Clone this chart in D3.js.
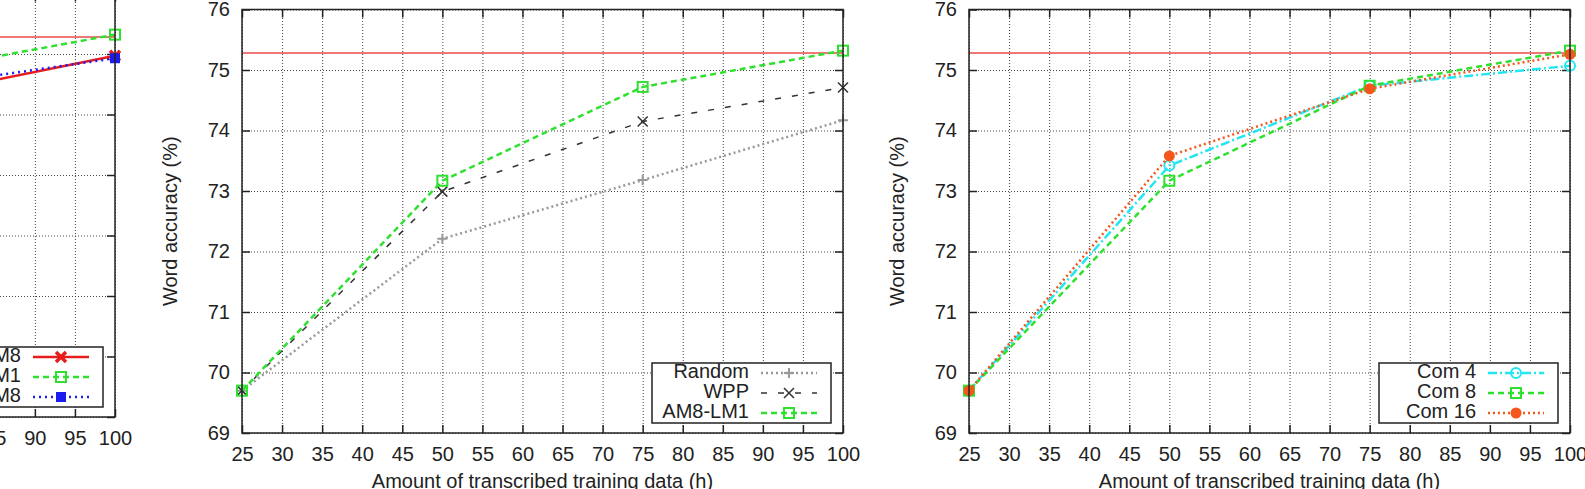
<!DOCTYPE html>
<html>
<head>
<meta charset="utf-8">
<script src="https://cdn.jsdelivr.net/npm/d3@7"></script>
<style>
	body{margin:0;background:#fff}
	svg text{font-family:"Liberation Sans",Arial,sans-serif;fill:#222}
	.grid line{stroke:#444;stroke-width:1;stroke-dasharray:1,2}
	.grid path{display:none}
	.ax path{display:none}
	.ax line{stroke:#222;stroke-width:1.5}
	.ax text{font-size:20px}
</style>
</head>
<body>
<div id="my_dataviz"></div>
<script>
// data
var hours=[25,50,75,100]
var xTicks=[25,30,35,40,45,50,55,60,65,70,75,80,85,90,95,100]
var yTicks=[69,70,71,72,73,74,75,76]
var baseline=75.28

// left panel (cut off by the page edge)
var leftLabels=["AM1-LM8","AM8-LM1","AM8-LM8"]
var leftRed=[69.7,72.9,74.30,74.97]
var leftGreen=[69.7,73.17,74.71,75.32]
var leftBlue=[69.7,73.0,74.45,74.93]

// middle panel
var midLabels=["Random","WPP","AM8-LM1"]
var random=[69.7,72.21,73.18,74.17]
var wpp=[69.7,72.99,74.15,74.71]
var am8lm1=[69.7,73.17,74.72,75.32]

// right panel
var rightLabels=["Com 4","Com 8","Com 16"]
var com4=[69.7,73.42,74.74,75.07]
var com8=[69.7,73.17,74.74,75.32]
var com16=[69.7,73.58,74.69,75.26]

var W=1585,H=489
var pw=601,ph=423.5

var svg=d3.select("#my_dataviz").append("svg")
	.attr("width",W)
	.attr("height",H)

// line looks
var styles={
	red:{color:"#e81c1c",width:2.5,dash:null,marker:"xbold"},
	green:{color:"#2fe02f",width:2.5,dash:"6,4",marker:"square"},
	blue:{color:"#1c1cf0",width:2.5,dash:"2,4",marker:"fsquare"},
	gray:{color:"#999",width:2.5,dash:"2,3",marker:"plus"},
	black:{color:"#333",width:1.5,dash:"6,11",marker:"x"},
	cyan:{color:"#22e6f2",width:2.5,dash:"9,3,2,3",marker:"circle"},
	orange:{color:"#f4561c",width:2.5,dash:"2,3",marker:"fcircle"}
}

function marker(g,type,color,cx,cy){
	if(type=="square") g.append("rect").attr("x",cx-5).attr("y",cy-5).attr("width",10).attr("height",10)
		.attr("fill","none").attr("stroke",color).attr("stroke-width",2)
	else if(type=="fsquare") g.append("rect").attr("x",cx-5).attr("y",cy-5).attr("width",10).attr("height",10)
		.attr("fill",color)
	else if(type=="circle") g.append("circle").attr("cx",cx).attr("cy",cy).attr("r",5)
		.attr("fill","none").attr("stroke",color).attr("stroke-width",2)
	else if(type=="fcircle") g.append("circle").attr("cx",cx).attr("cy",cy).attr("r",5.5)
		.attr("fill",color)
	else if(type=="plus") g.append("path").attr("d","M"+(cx-5)+","+cy+"h10M"+cx+","+(cy-5)+"v10")
		.attr("stroke",color).attr("stroke-width",2)
	else if(type=="x") g.append("path").attr("d","M"+(cx-5)+","+(cy-5)+"l10,10M"+(cx-5)+","+(cy+5)+"l10,-10")
		.attr("stroke",color).attr("stroke-width",1.5)
	else if(type=="xbold") g.append("path").attr("d","M"+(cx-5)+","+(cy-5)+"l10,10M"+(cx-5)+","+(cy+5)+"l10,-10")
		.attr("stroke",color).attr("stroke-width",3.5)
}

function drawPanel(left,top,series,labels){
	var g=svg.append("g").attr("transform","translate("+left+","+top+")")

	var xScale=d3.scaleLinear().domain([25,100]).range([0,pw])
	var yScale=d3.scaleLinear().domain([69,76]).range([ph,0])

	// dotted grid
	g.append("g").attr("class","grid")
		.attr("transform","translate(0,"+ph+")")
		.call(d3.axisBottom(xScale).tickValues(xTicks).tickSize(-ph).tickFormat(""))
	g.append("g").attr("class","grid")
		.call(d3.axisLeft(yScale).tickValues(yTicks).tickSize(-pw).tickFormat(""))

	// inward ticks on all four sides
	g.append("g").attr("class","ax")
		.attr("transform","translate(0,"+ph+")")
		.call(d3.axisBottom(xScale).tickValues(xTicks).tickFormat(d3.format("d"))
			.tickSizeInner(-8).tickSizeOuter(0).tickPadding(13.5))
	g.append("g").attr("class","ax")
		.call(d3.axisTop(xScale).tickValues(xTicks).tickSizeInner(-8).tickSizeOuter(0).tickFormat(""))
	g.append("g").attr("class","ax")
		.call(d3.axisLeft(yScale).tickValues(yTicks).tickFormat(d3.format("d"))
			.tickSizeInner(-8).tickSizeOuter(0).tickPadding(12))
	g.append("g").attr("class","ax")
		.attr("transform","translate("+pw+",0)")
		.call(d3.axisRight(yScale).tickValues(yTicks).tickSizeInner(-8).tickSizeOuter(0).tickFormat(""))

	// red reference line
	g.append("line")
		.attr("x1",0).attr("x2",pw)
		.attr("y1",yScale(baseline)).attr("y2",yScale(baseline))
		.attr("stroke","#e84a4a").attr("stroke-width",1.5)

	var line=d3.line()
		.x(function(d,i){return xScale(hours[i])})
		.y(function(d){return yScale(d)})

	series.forEach(function(s){
		var st=styles[s.style]
		g.append("path")
			.datum(s.values)
			.attr("d",line)
			.attr("fill","none")
			.attr("stroke",st.color)
			.attr("stroke-width",st.width)
			.attr("stroke-dasharray",st.dash)
		s.values.forEach(function(v,i){
			marker(g,st.marker,st.color,xScale(hours[i]),yScale(v))
		})
	})

	// frame
	g.append("rect").attr("width",pw).attr("height",ph)
		.attr("fill","none").attr("stroke","#222").attr("stroke-width",1.5)

	// axis titles
	g.append("text")
		.attr("transform","translate(-70,"+(ph/2)+") rotate(-90)")
		.attr("text-anchor","middle").attr("dominant-baseline","middle")
		.style("font-size","20px")
		.text("Word accuracy (%)")
	g.append("text")
		.attr("x",pw/2).attr("y",ph+55)
		.attr("text-anchor","middle")
		.style("font-size","20px")
		.text("Amount of transcribed training data (h)")

	// legend box, bottom right
	var lx=pw-12-179,ly=ph-70
	var lg=g.append("g").attr("transform","translate("+lx+","+ly+")")
	lg.append("rect").attr("width",179).attr("height",60)
		.attr("fill","#fff").attr("stroke","#222").attr("stroke-width",1.5)
	series.forEach(function(s,i){
		var st=styles[s.style]
		var yy=10+i*20
		lg.append("text").attr("x",97).attr("y",yy)
			.attr("text-anchor","end").attr("dominant-baseline","middle")
			.style("font-size","20px")
			.text(labels[i])
		lg.append("line").attr("x1",109).attr("x2",165).attr("y1",yy).attr("y2",yy)
			.attr("stroke",st.color).attr("stroke-width",st.width)
			.attr("stroke-dasharray",st.dash)
		marker(lg,st.marker,st.color,137,yy)
	})
}

drawPanel(115-pw,417-ph,[
	{values:leftRed,style:"red"},
	{values:leftGreen,style:"green"},
	{values:leftBlue,style:"blue"}
],leftLabels)

drawPanel(242,9.5,[
	{values:random,style:"gray"},
	{values:wpp,style:"black"},
	{values:am8lm1,style:"green"}
],midLabels)

drawPanel(969,9.5,[
	{values:com4,style:"cyan"},
	{values:com8,style:"green"},
	{values:com16,style:"orange"}
],rightLabels)
</script>
</body>
</html>
